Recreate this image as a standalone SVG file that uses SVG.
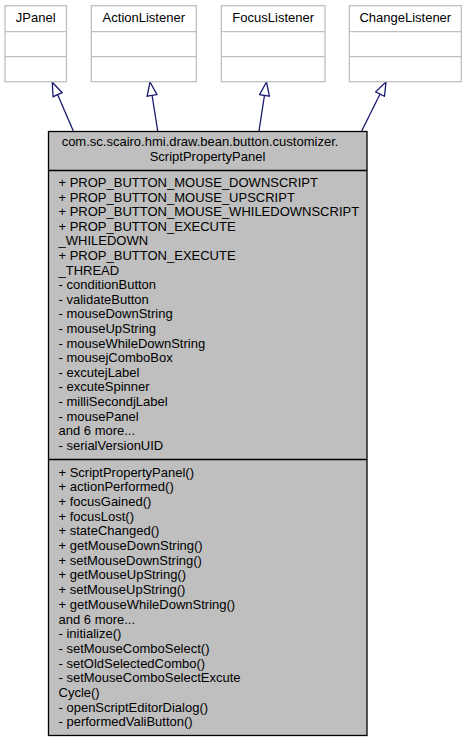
<svg xmlns="http://www.w3.org/2000/svg" width="467" height="741" viewBox="0 0 467 741">
<defs>
<style>
text{font-family:"Liberation Sans",Arial,sans-serif;font-size:13px;fill:#000}
.ext{fill:#fff;stroke:#bfbfbf;stroke-width:1.3}
.sep{stroke:#bfbfbf;stroke-width:1.3}
.main{fill:#bfbfbf;stroke:#000;stroke-width:1.3}
.msep{stroke:#000;stroke-width:1.3}
.edge{fill:none;stroke:#191970;stroke-width:1.3}
.c{text-anchor:middle}
</style>
<marker id="inh" markerUnits="userSpaceOnUse" markerWidth="16" markerHeight="12" viewBox="0 0 16 12" refX="14.5" refY="6" orient="auto">
<path d="M1,1 L14.5,6 L1,11 Z" fill="#fff" stroke="#191970" stroke-width="1.3"/>
</marker>
</defs>
<rect width="467" height="741" fill="#fff"/>
<g id="edges">
<path class="edge" d="M73.3,131 L52.3,82.3" marker-end="url(#inh)"/>
<path class="edge" d="M157.7,131 L150,82" marker-end="url(#inh)"/>
<path class="edge" d="M259,131 L266.5,82" marker-end="url(#inh)"/>
<path class="edge" d="M361.7,131 L386,82" marker-end="url(#inh)"/>
</g>
<g id="JPanel">
<rect class="ext" x="5" y="5.7" width="61.5" height="76"/>
<line class="sep" x1="5" y1="31.7" x2="66.5" y2="31.7"/>
<line class="sep" x1="5" y1="56.7" x2="66.5" y2="56.7"/>
<text class="c" x="35.7" y="22">JPanel</text>
</g>
<g id="ActionListener">
<rect class="ext" x="91.3" y="5.7" width="105" height="76"/>
<line class="sep" x1="91.3" y1="31.7" x2="196.3" y2="31.7"/>
<line class="sep" x1="91.3" y1="56.7" x2="196.3" y2="56.7"/>
<text class="c" x="143.8" y="22">ActionListener</text>
</g>
<g id="FocusListener">
<rect class="ext" x="221.3" y="5.7" width="103.7" height="76"/>
<line class="sep" x1="221.3" y1="31.7" x2="325" y2="31.7"/>
<line class="sep" x1="221.3" y1="56.7" x2="325" y2="56.7"/>
<text class="c" x="273.2" y="22">FocusListener</text>
</g>
<g id="ChangeListener">
<rect class="ext" x="349.3" y="5.7" width="112" height="76"/>
<line class="sep" x1="349.3" y1="31.7" x2="461.3" y2="31.7"/>
<line class="sep" x1="349.3" y1="56.7" x2="461.3" y2="56.7"/>
<text class="c" x="405.3" y="22">ChangeListener</text>
</g>
<g id="ScriptPropertyPanel">
<rect class="main" x="48.5" y="131.5" width="318.5" height="604"/>
<line class="msep" x1="48.5" y1="170.5" x2="367" y2="170.5"/>
<line class="msep" x1="48.5" y1="459.5" x2="367" y2="459.5"/>
<text class="c" x="200" y="146.3">com.sc.scairo.hmi.draw.bean.button.customizer.</text>
<text class="c" x="207.5" y="161.3">ScriptPropertyPanel</text>
<text x="58.5" y="187">+ PROP_BUTTON_MOUSE_DOWNSCRIPT</text>
<text x="58.5" y="201.6">+ PROP_BUTTON_MOUSE_UPSCRIPT</text>
<text x="58.5" y="216.2">+ PROP_BUTTON_MOUSE_WHILEDOWNSCRIPT</text>
<text x="58.5" y="230.8">+ PROP_BUTTON_EXECUTE</text>
<text x="58.5" y="245.4">_WHILEDOWN</text>
<text x="58.5" y="260">+ PROP_BUTTON_EXECUTE</text>
<text x="58.5" y="274.6">_THREAD</text>
<text x="58.5" y="289.2">- conditionButton</text>
<text x="58.5" y="303.8">- validateButton</text>
<text x="58.5" y="318.4">- mouseDownString</text>
<text x="58.5" y="333">- mouseUpString</text>
<text x="58.5" y="347.6">- mouseWhileDownString</text>
<text x="58.5" y="362.2">- mousejComboBox</text>
<text x="58.5" y="376.8">- excutejLabel</text>
<text x="58.5" y="391.4">- excuteSpinner</text>
<text x="58.5" y="406">- milliSecondjLabel</text>
<text x="58.5" y="420.6">- mousePanel</text>
<text x="58.5" y="435.2">and 6 more...</text>
<text x="58.5" y="449.8">- serialVersionUID</text>
<text x="58.5" y="476.5">+ ScriptPropertyPanel()</text>
<text x="58.5" y="491.2">+ actionPerformed()</text>
<text x="58.5" y="505.9">+ focusGained()</text>
<text x="58.5" y="520.6">+ focusLost()</text>
<text x="58.5" y="535.3">+ stateChanged()</text>
<text x="58.5" y="550">+ getMouseDownString()</text>
<text x="58.5" y="564.7">+ setMouseDownString()</text>
<text x="58.5" y="579.4">+ getMouseUpString()</text>
<text x="58.5" y="594.1">+ setMouseUpString()</text>
<text x="58.5" y="608.8">+ getMouseWhileDownString()</text>
<text x="58.5" y="623.5">and 6 more...</text>
<text x="58.5" y="638.2">- initialize()</text>
<text x="58.5" y="652.9">- setMouseComboSelect()</text>
<text x="58.5" y="667.6">- setOldSelectedCombo()</text>
<text x="58.5" y="682.3">- setMouseComboSelectExcute</text>
<text x="58.5" y="697">Cycle()</text>
<text x="58.5" y="711.7">- openScriptEditorDialog()</text>
<text x="58.5" y="726.4">- performedValiButton()</text>
</g>
</svg>
